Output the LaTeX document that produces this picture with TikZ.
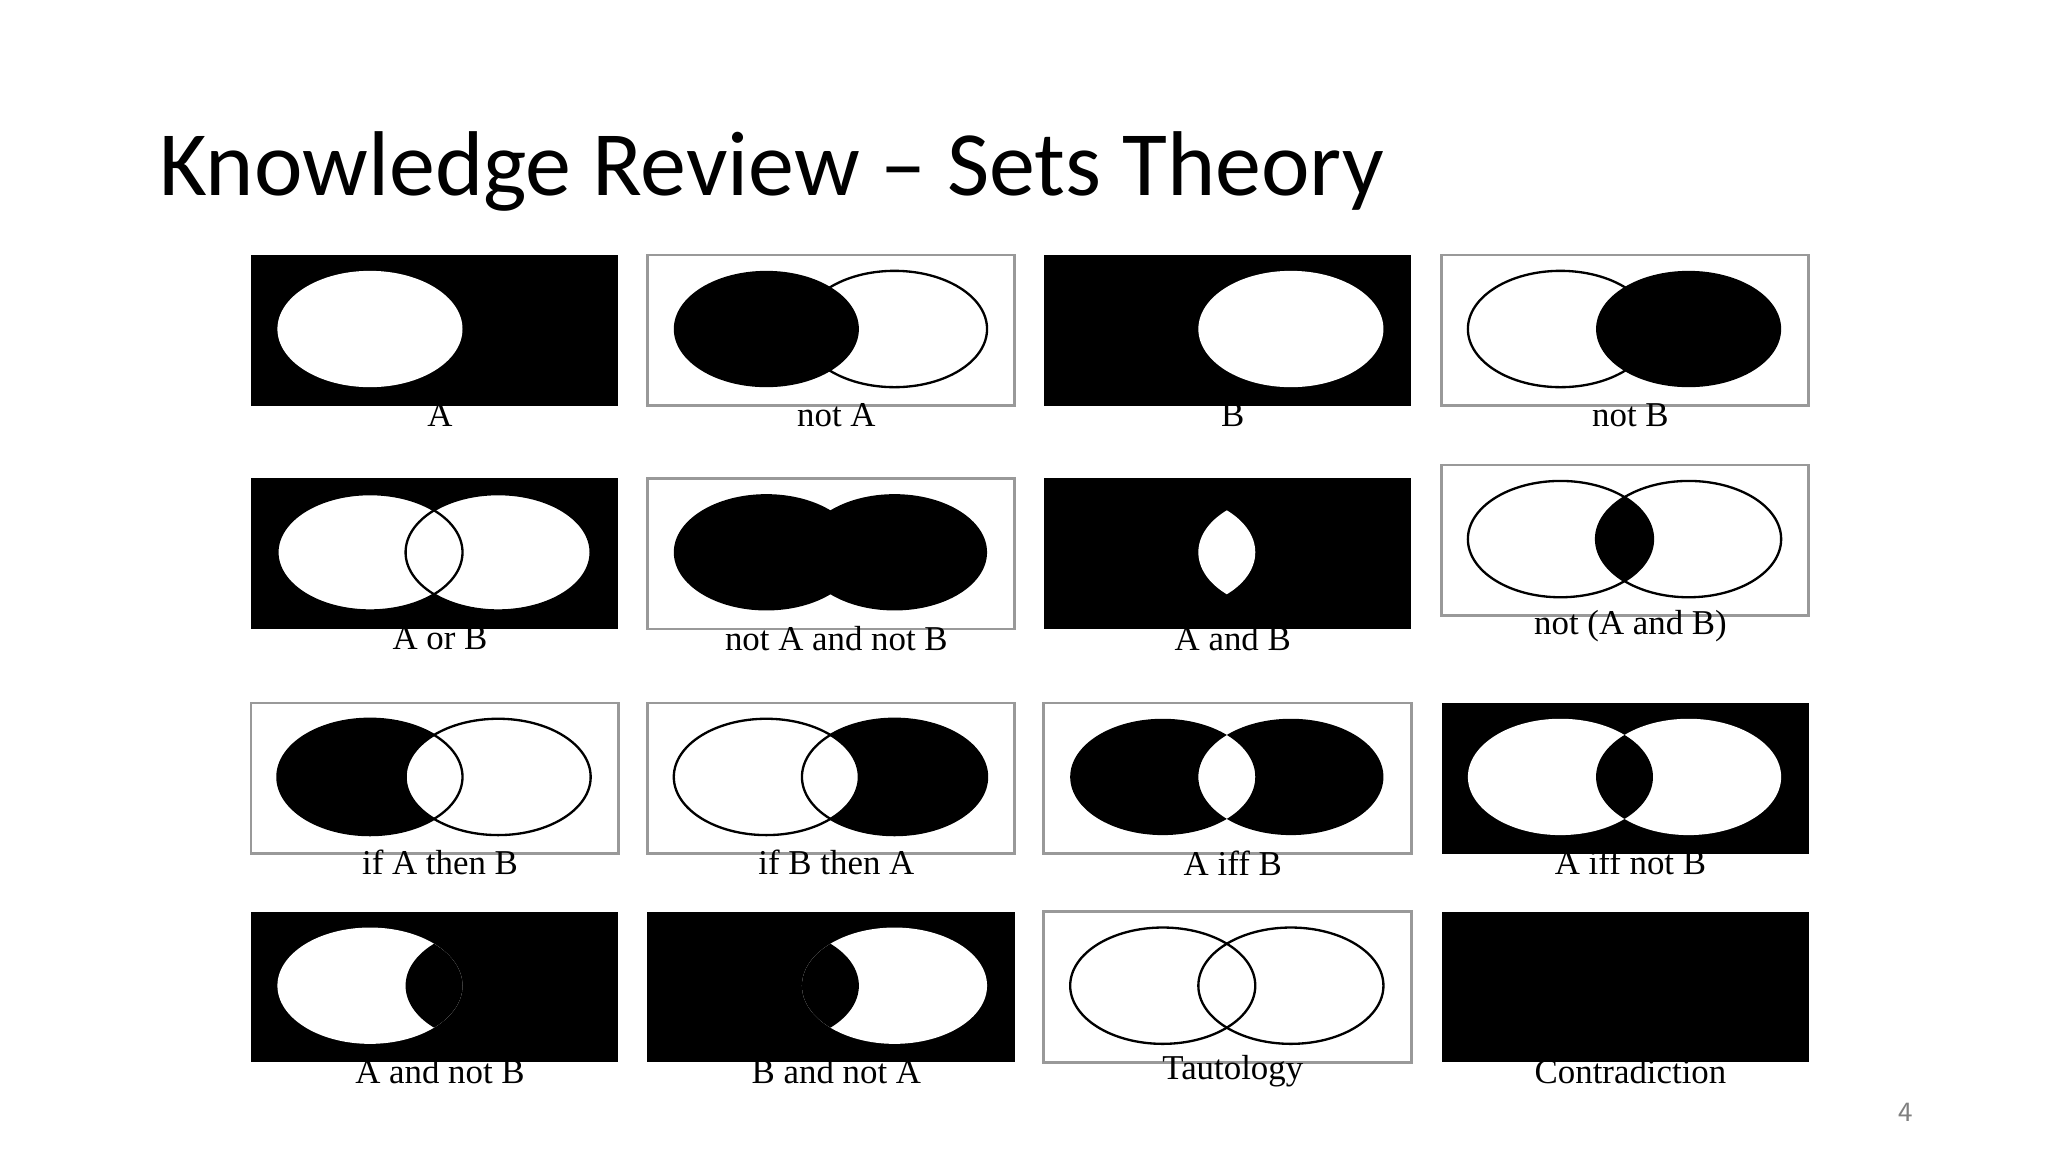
\documentclass[tikz,border=0pt]{standalone}
\usepackage{fontspec}
\setmainfont{Liberation Serif}
\newfontfamily\titlefont{Carlito}
\begin{document}
\begin{tikzpicture}[x=0.01cm,y=-0.01cm,
  lbl/.style={font=\fontsize{7.5}{9}\selectfont,inner sep=0pt},
  ol/.style={draw=black,line width=0.5pt}]
\useasboundingbox (0,0) rectangle (1550,872);
\fill[white] (0,0) rectangle (1550,872);
\def\A{(90,56) ellipse[x radius=0.7cm,y radius=0.44cm]}
\def\B{(187,56) ellipse[x radius=0.7cm,y radius=0.44cm]}
\newcommand\bgk{\fill[black] (0,0) rectangle (278,114);}
\newcommand\bgw{\draw[gray!80,line width=0.6pt] (0,0) rectangle (278,114);}
\newcommand\panelx[5]{\begin{scope}[shift={(#1,#2)}]#5\end{scope}
  \node[lbl] (#4) at (#1+143,#2+121) {#3};}
\node[font=\titlefont\fontsize{19.8}{23}\selectfont,anchor=west,inner sep=0pt] (title) at (120,130) {Knowledge Review – Sets Theory};
% row 1
\panelx{190}{193}{A}{l1}{\bgk\fill[white]\A;}
\panelx{490}{193}{not A}{l2}{\bgw\fill\A;\draw[ol]\B;}
\panelx{790}{193}{B}{l3}{\bgk\fill[white]\B;}
\panelx{1091}{193}{not B}{l4}{\bgw\fill\B;\draw[ol]\A;}
% row 2
\panelx{190}{362}{A or B}{l5}{\bgk\fill[white]\A;\fill[white]\B;\draw[ol]\A;\draw[ol]\B;}
\panelx{490}{362}{not A and not B}{l6}{\bgw\fill\A;\fill\B;}
\panelx{790}{362}{A and B}{l7}{\bgk\begin{scope}\clip\A;\fill[white]\B;\end{scope}}
\begin{scope}[shift={(1091,352)}]\bgw\draw[ol]\A;\draw[ol]\B;\begin{scope}\clip\A;\fill\B;\end{scope}\end{scope}
\node[lbl] (l8) at (1234,474) {not (A and B)};
% row 3
\panelx{190}{532}{if A then B}{l9}{\bgw\fill\A;\fill[white]\B;\draw[ol]\A;\draw[ol]\B;}
\panelx{490}{532}{if B then A}{l10}{\bgw\fill\B;\fill[white]\A;\draw[ol]\A;\draw[ol]\B;}
\panelx{790}{532}{A iff B}{l11}{\bgw\fill[even odd rule]\A\B;}
\panelx{1091}{532}{A iff not B}{l12}{\bgk\fill[white]\A;\fill[white]\B;\begin{scope}\clip\A;\fill\B;\end{scope}}
% row 4
\panelx{190}{690}{A and not B}{l13}{\bgk\fill[white]\A;\begin{scope}\clip\A;\fill\B;\end{scope}}
\panelx{490}{690}{B and not A}{l14}{\bgk\fill[white]\B;\begin{scope}\clip\B;\fill\A;\end{scope}}
\panelx{790}{690}{Tautology}{l15}{\bgw\draw[ol]\A;\draw[ol]\B;}
\panelx{1091}{690}{Contradiction}{l16}{\bgk}
\node[font=\fontsize{6}{7}\selectfont\sffamily,text=gray] (pg) at (1442,842) {4};
\end{tikzpicture}
\end{document}
